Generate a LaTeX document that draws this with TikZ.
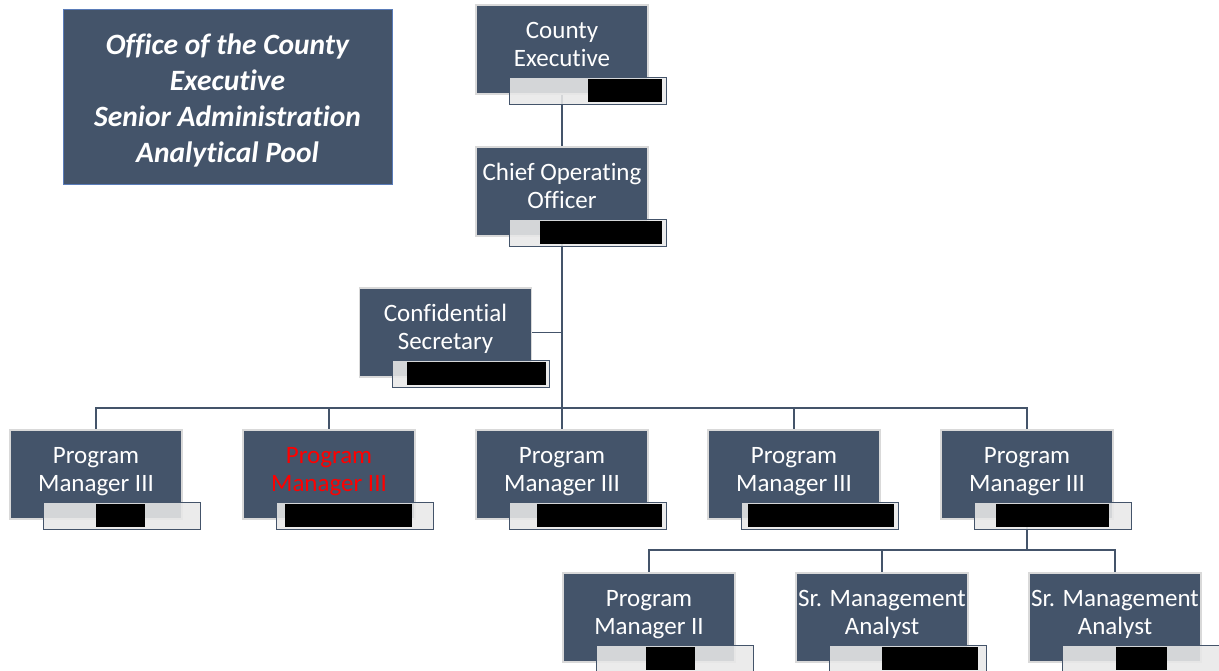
\documentclass[tikz,border=0pt]{standalone}
\usepackage{fontspec}
\setmainfont[Ligatures=NoCommon]{Carlito}
\pgfdeclarelayer{background}
\pgfsetlayers{background,main}

\definecolor{slate}{HTML}{44546A}
\definecolor{postedge}{HTML}{D9D9D9}
\definecolor{titleedge}{HTML}{5A7CB8}
\definecolor{barfill}{HTML}{E8E8E8}

\tikzset{
  post/.style={draw=postedge, line width=1.5pt, fill=slate,
    minimum width=172pt, minimum height=89pt, inner sep=0pt},
  posttext/.style={text=white, align=center, inner sep=0pt,
    font=\fontsize{25pt}{28pt}\selectfont},
  postbar/.style={draw=slate, line width=1.1pt, fill=barfill, fill opacity=0.88,
    minimum width=157pt, minimum height=27pt, inner sep=0pt},
  conn/.style={draw=slate, line width=1.4pt},
  titlebox/.style={draw=titleedge, line width=1pt, fill=slate,
    minimum width=329pt, minimum height=175pt, inner sep=0pt},
  titletext/.style={text=white, align=center, inner sep=0pt,
    font=\fontsize{29.5pt}{36pt}\selectfont\bfseries\itshape}
}

% #1 name, #2 centre x, #3 top y, #4 first line, #5 second line,
% #6/#7 left/right of the blacked-out name, #8 text colour
\newcommand\orgpost[8]{%
  \node[post] (#1) at (#2,#3+44.5) {};
  \node[postbar, anchor=south east] (#1bar) at ([xshift=18pt,yshift=-10pt]#1.south east) {};
  \fill[black] (#6,#3+74) rectangle (#7,#3+97);
  \node[posttext, text=#8] (#1text) at (#2,#3+42) {\strut#4\\#5\strut};
}

\begin{document}
\begin{tikzpicture}[x=1pt, y=-1pt]
  \useasboundingbox (0,0) rectangle (1219,670);

  % heading panel
  \node[titlebox] (title) at (227.5,96.5) {};
  \node[titletext] (titletxt) at (227.5,100.5) {Office of the County\\Executive\\Senior Administration\\Analytical Pool};

  % top of the chain
  \orgpost{ce}{562}{5}{County}{Executive}{588}{662}{white}
  \orgpost{coo}{562}{147}{Chief Operating}{Officer}{540}{662}{white}
  \orgpost{sec}{445.5}{288}{Confidential}{Secretary}{407}{546}{white}

  % program managers
  \orgpost{pma}{96}{430}{Program}{Manager III}{96}{145}{white}
  \orgpost{pmb}{329}{430}{Program}{Manager III}{285}{412}{red}
  \orgpost{pmc}{562}{430}{Program}{Manager III}{537}{662}{white}
  \orgpost{pmd}{794}{430}{Program}{Manager III}{748}{894}{white}
  \orgpost{pme}{1027}{430}{Program}{Manager III}{996}{1109}{white}

  % staff under the fifth program manager
  \orgpost{pmii}{649}{573}{Program}{Manager II}{646}{695}{white}
  \orgpost{smaa}{882}{573}{Sr. Management}{Analyst}{882}{978}{white}
  \orgpost{smab}{1115}{573}{Sr. Management}{Analyst}{1116}{1167}{white}

  \coordinate (busA) at (562,408);
  \coordinate (busB) at (1027,550);

  \begin{pgfonlayer}{background}
    \draw[conn] (ce.south) -- (coo.north);
    \draw[conn] (coo.south) -- (busA);
    \draw[conn] (sec.east) -- (sec.east -| busA);
    \draw[conn] (pma.north) |- (pme.north |- busA) -- (pme.north);
    \draw[conn] (pmb.north) -- (pmb.north |- busA);
    \draw[conn] (pmc.north) -- (pmc.north |- busA);
    \draw[conn] (pmd.north) -- (pmd.north |- busA);
    \draw[conn] (pme.south) -- (busB);
    \draw[conn] (pmii.north) |- (smab.north |- busB) -- (smab.north);
    \draw[conn] (smaa.north) -- (smaa.north |- busB);
  \end{pgfonlayer}
\end{tikzpicture}
\end{document}
